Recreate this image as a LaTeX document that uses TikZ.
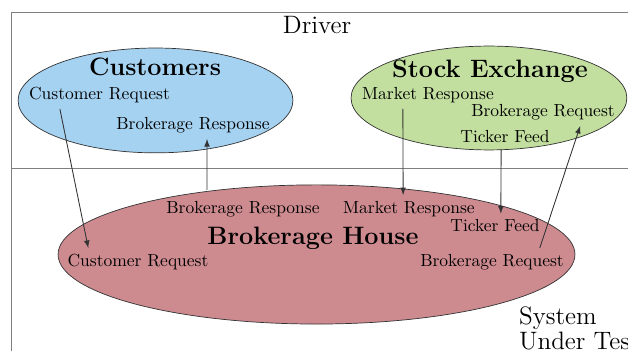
\documentclass[tikz,border=0pt]{standalone}
\usetikzlibrary{shapes.geometric}

\definecolor{custblue}{HTML}{A6D2F1}
\definecolor{exgreen}{HTML}{C2DF9F}
\definecolor{houserose}{HTML}{CD8B90}
\definecolor{framegray}{HTML}{7F7F7F}
\definecolor{flowgray}{HTML}{333333}

\begin{document}
\begin{tikzpicture}[
    blob/.style={ellipse, draw=black!80, inner sep=0pt},
    heading/.style={font=\Large\bfseries},
    flow/.style={-latex, draw=flowgray, line width=0.5pt},
  ]
  \useasboundingbox (0,0) rectangle (12.623,7.055);
  % driver / system under test split
  \draw[framegray] (12.623,6.814) -- (0.221,6.814) -- (0.221,0);
  \draw[framegray] (0.221,3.678) -- (12.623,3.678);
  \node (driver) at (6.372,6.552) {\Large Driver};
  \node[align=left, anchor=west] (sut) at (10.31,0.452) {\Large System\\\Large Under Test};

  % actors
  \node[blob, fill=custblue, minimum width=5.525cm, minimum height=2.107cm] (customers) at (3.126,5.036) {};
  \node[blob, fill=exgreen, minimum width=5.544cm, minimum height=2.088cm] (exchange) at (9.828,5.085) {};
  \node[blob, fill=houserose, minimum width=10.39cm, minimum height=2.797cm] (house) at (6.362,1.940) {};

  \node[heading] (custtitle) at (3.116,5.709) {Customers};
  \node (ccr) at (2.000,5.146) {Customer Request};
  \node (cbr) at (3.879,4.542) {Brokerage Response};

  \node[heading] (extitle) at (9.849,5.628) {Stock Exchange};
  \node (smr) at (8.603,5.146) {Market Response};
  \node (sbq) at (10.914,4.804) {Brokerage Request};
  \node (stf) at (10.151,4.302) {Ticker Feed};

  \node[heading] (housetitle) at (6.291,2.271) {Brokerage House};
  \node (hbr) at (4.884,2.854) {Brokerage Response};
  \node (hmr) at (8.220,2.854) {Market Response};
  \node (htf) at (9.950,2.513) {Ticker Feed};
  \node (hcr) at (2.774,1.789) {Customer Request};
  \node (hbq) at (9.889,1.789) {Brokerage Request};

  % messages
  \draw[flow] ([xshift=-0.796cm]ccr.south) -- ([xshift=-1.0cm]hcr.north);
  \draw[flow] ([xshift=-0.723cm, yshift=0.1cm]hbr.north) -- ([xshift=0.282cm]cbr.south);
  \draw[flow] ([xshift=-0.505cm]smr.south) -- ([xshift=-0.117cm]hmr.north);
  \draw[flow] ([xshift=-0.078cm]stf.south) -- ([xshift=0.117cm]htf.north);
  \draw[flow] ([xshift=0.961cm]hbq.north) -- ([xshift=0.748cm]sbq.south);
\end{tikzpicture}
\end{document}
